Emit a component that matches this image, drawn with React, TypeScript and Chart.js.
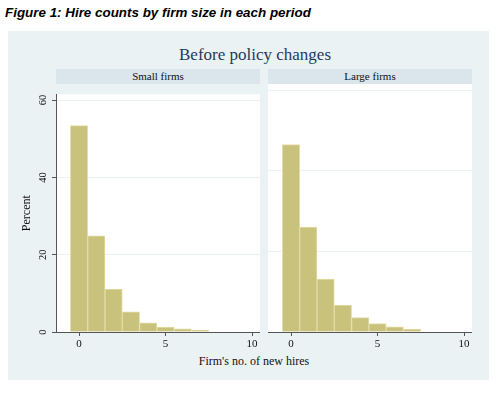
import React, { useEffect, useRef } from "react";
import { Chart, registerables } from "chart.js";

Chart.register(...registerables);

// ---- data ----
const hires = [0, 1, 2, 3, 4, 5, 6, 7];
const smallFirms = [53.4, 24.9, 11.1, 5.2, 2.4, 1.3, 0.8, 0.5];
const largeFirms = [46.5, 26.0, 13.1, 6.7, 3.6, 2.1, 1.3, 0.7];
const xTicks = [0, 5, 10];
const yTicks = [0, 20, 40, 60];
const panelTitles = ["Small firms", "Large firms"];
const figureTitle = "Figure 1: Hire counts by firm size in each period";
const graphTitle = "Before policy changes";
const xTitle = "Firm's no. of new hires";
const yTitle = "Percent";

const X_MIN = -1.33;
const X_MAX = 10.46;
const Y_MIN = 0;
const Y_MAX = 61.5;

const SERIF = '"Liberation Serif", "Times New Roman", serif';
const SANS = '"Liberation Sans", Arial, sans-serif';

document.body.style.margin = "0";

const plotBg = {
  id: "plotBg",
  beforeDraw(chart: any) {
    const { ctx, chartArea: a } = chart;
    ctx.save();
    ctx.fillStyle = "#ffffff";
    ctx.fillRect(a.left, a.top, a.right - a.left, a.bottom - a.top);
    ctx.restore();
  },
};

function Panel(props: { values: number[]; showY: boolean; left: number; width: number }) {
  const { values, showY, left, width } = props;
  const ref = useRef<HTMLCanvasElement | null>(null);
  useEffect(() => {
    const chart = new Chart(ref.current as HTMLCanvasElement, {
      type: "bar",
      data: {
        datasets: [
          {
            data: hires.map((h, i) => ({ x: h, y: values[i] })),
            backgroundColor: "#C9C27D",
            borderColor: "#E2DCA6",
            borderWidth: 1,
            categoryPercentage: 1,
            barPercentage: 1,
          } as any,
        ],
      },
      options: {
        responsive: false,
        animation: false,
        layout: { padding: 0 },
        plugins: { legend: { display: false }, tooltip: { enabled: false } },
        scales: {
          x: {
            type: "linear",
            min: X_MIN,
            max: X_MAX,
            offset: false,
            afterBuildTicks: (s: any) => {
              s.ticks = xTicks.map((v) => ({ value: v }));
            },
            afterFit: (s: any) => {
              s.height = 20;
            },
            grid: { drawOnChartArea: false, drawTicks: true, tickLength: 4, tickColor: "#555", offset: false },
            border: { display: true, color: "#555", width: 1 },
            ticks: {
              font: { family: SERIF, size: 11 },
              color: "#111",
              padding: 2,
              maxRotation: 0,
              autoSkip: false,
            },
          },
          y: {
            type: "linear",
            min: Y_MIN,
            max: Y_MAX,
            afterBuildTicks: (s: any) => {
              s.ticks = yTicks.map((v) => ({ value: v }));
            },
            afterFit: (s: any) => {
              s.width = showY ? 56 : 0;
            },
            grid: {
              color: (c: any) => (c.tick && c.tick.value === 0 ? "rgba(0,0,0,0)" : "#EAF2F3"),
              drawTicks: showY,
              tickLength: 4,
              tickColor: "#555",
              lineWidth: 1,
            },
            border: { display: showY, color: "#555", width: 1 },
            ticks: {
              display: showY,
              minRotation: 90,
              maxRotation: 90,
              crossAlign: "center",
              padding: 4,
              font: { family: SERIF, size: 10.5 },
              color: "#111",
            },
            title: {
              display: showY,
              text: yTitle,
              font: { family: SERIF, size: 12 },
              color: "#111",
              padding: { top: 20, bottom: 0 },
            },
          },
        },
      } as any,
      plugins: [plotBg],
    });
    return () => chart.destroy();
  }, []);
  return (
    <canvas
      ref={ref}
      width={width}
      height={268}
      style={{ position: "absolute", left, top: 84, width, height: 268 }}
    />
  );
}

export default function App() {
  const strip: React.CSSProperties = {
    position: "absolute",
    top: 69,
    height: 15,
    width: 204,
    background: "#DAE5EC",
    font: `11px ${SERIF}`,
    lineHeight: "15px",
    textAlign: "center",
    color: "#111",
  };
  return (
    <div style={{ position: "relative", width: 501, height: 415, background: "#fff", overflow: "hidden" }}>
      <div
        style={{
          position: "absolute",
          left: 5,
          top: 5,
          font: `italic bold 13.4px ${SANS}`,
          lineHeight: "16px",
          color: "#000",
          whiteSpace: "nowrap",
        }}
      >
        {figureTitle}
      </div>
      <div style={{ position: "absolute", left: 8, top: 31, width: 481, height: 349, background: "#EAF2F3" }} />
      <div
        style={{
          position: "absolute",
          left: 0,
          top: 45,
          width: 510,
          textAlign: "center",
          font: `17px ${SERIF}`,
          lineHeight: "20px",
          color: "#1F3A5E",
        }}
      >
        {graphTitle}
      </div>
      <div style={{ ...strip, left: 56 }}>{panelTitles[0]}</div>
      <div style={{ ...strip, left: 268 }}>{panelTitles[1]}</div>
      <Panel values={smallFirms} showY={true} left={0} width={260} />
      <Panel values={largeFirms} showY={false} left={268} width={204} />
      <div
        style={{
          position: "absolute",
          left: 0,
          top: 354,
          width: 508,
          textAlign: "center",
          font: `12px ${SERIF}`,
          lineHeight: "14px",
          color: "#111",
        }}
      >
        {xTitle}
      </div>
    </div>
  );
}
